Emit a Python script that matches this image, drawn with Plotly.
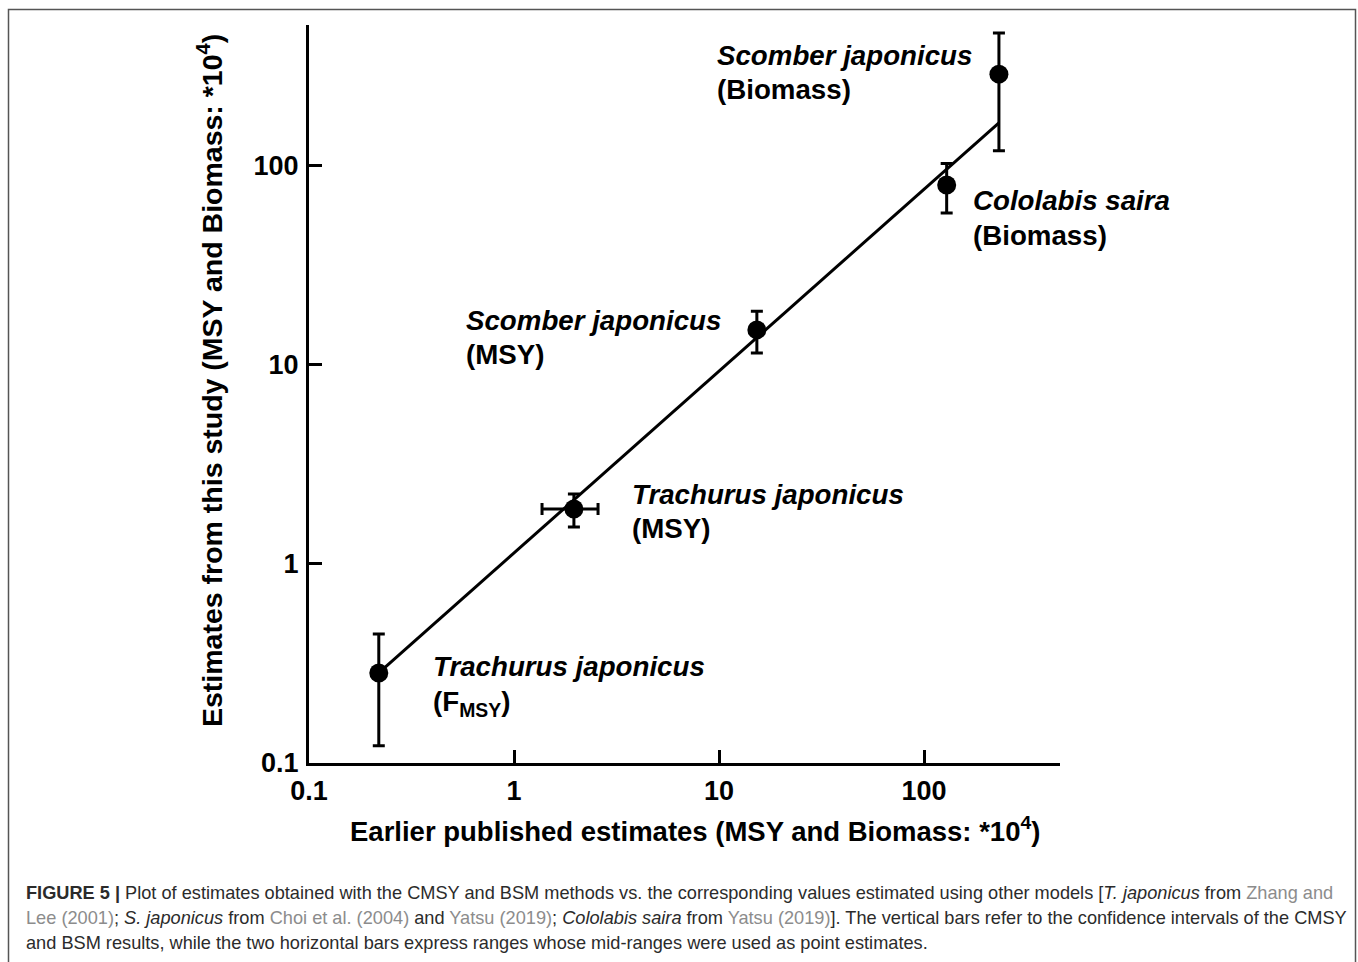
import plotly.graph_objects as go

# ---- data ----
labels = ["Trachurus japonicus (F_MSY)", "Trachurus japonicus (MSY)",
          "Scomber japonicus (MSY)", "Cololabis saira (Biomass)",
          "Scomber japonicus (Biomass)"]
x_earlier = [0.219, 1.96, 15.3, 129, 232]
y_study = [0.283, 1.88, 14.9, 79.4, 286]
y_low = [0.122, 1.53, 11.4, 57.5, 118]
y_high = [0.444, 2.24, 18.5, 102, 460]
x_low = [0.219, 1.37, 15.3, 129, 232]
x_high = [0.219, 2.57, 15.3, 129, 232]

fit_x = [0.219, 232]
fit_y = [0.283, 163]

tick_vals = [0.1, 1, 10, 100]
tick_text = ["0.1", "1", "10", "100"]

# ---- layout geometry ----
W, H = 1358, 962
L, R, T, B = 309, 1060, 25, 763
x_range = [-1, -1 + (R - L) / 205.0]
y_range = [-1, -1 + (B - T) / 199.3]

def px(xp):
    return (xp - L) / (R - L)

def py(yp):
    return (B - yp) / (B - T)

FONT = "Liberation Sans, Arial, sans-serif"

fig = go.Figure()

fig.add_trace(go.Scatter(x=fit_x, y=fit_y, mode="lines",
                         line=dict(color="black", width=3),
                         hoverinfo="skip", showlegend=False))

fig.add_trace(go.Scatter(
    x=x_earlier, y=y_study, mode="markers", text=labels,
    marker=dict(color="black", size=19),
    error_y=dict(type="data", symmetric=False,
                 array=[h - v for h, v in zip(y_high, y_study)],
                 arrayminus=[v - l for l, v in zip(y_low, y_study)],
                 color="black", thickness=3, width=6),
    error_x=dict(type="data", symmetric=False,
                 array=[h - v for h, v in zip(x_high, x_earlier)],
                 arrayminus=[v - l for l, v in zip(x_low, x_earlier)],
                 color="black", thickness=3, width=6),
    showlegend=False))

axis_common = dict(
    type="log", showgrid=False, zeroline=False,
    showline=True, linecolor="black", linewidth=3,
    ticks="inside", ticklen=13, tickwidth=2.5, tickcolor="black",
    tickvals=tick_vals, ticktext=tick_text,
    tickfont=dict(family=FONT, size=27, color="black", weight="bold"),
)

fig.update_layout(
    width=W, height=H,
    margin=dict(l=L, r=W - R, t=T, b=H - B, pad=0),
    paper_bgcolor="white", plot_bgcolor="white",
    xaxis=dict(range=x_range, ticklabelstandoff=2, **axis_common),
    yaxis=dict(range=y_range, ticklabelstandoff=2, **axis_common),
)

ann = []
ann.append(dict(text="Earlier published estimates (MSY and Biomass: *10<sup>4</sup>)",
                x=px(695), y=py(830), xref="paper", yref="paper",
                xanchor="center", yanchor="middle", showarrow=False,
                font=dict(family=FONT, size=27.5, color="black", weight="bold")))
ann.append(dict(text="Estimates from this study (MSY and Biomass: *10<sup>4</sup>)",
                x=px(210), y=py(381), xref="paper", yref="paper",
                xanchor="center", yanchor="middle", showarrow=False,
                textangle=-90,
                font=dict(family=FONT, size=28.5, color="black", weight="bold")))

lab_font = dict(family=FONT, size=27.7, color="black", weight="bold")
species_labels = [
    ("<i>Scomber japonicus</i>", 715, 55),
    ("(Biomass)", 715, 90),
    ("<i>Cololabis saira</i>", 971, 200),
    ("(Biomass)", 971, 235),
    ("<i>Scomber japonicus</i>", 464, 320),
    ("(MSY)", 464, 354),
    ("<i>Trachurus japonicus</i>", 630, 494),
    ("(MSY)", 630, 528),
    ("<i>Trachurus japonicus</i>", 431, 666),
    ("(F<sub>MSY</sub>)", 431, 703),
]
for t, xp, yp in species_labels:
    ann.append(dict(text=t, x=px(xp), y=py(yp), xref="paper", yref="paper",
                    xanchor="left", yanchor="middle", showarrow=False,
                    font=lab_font))

CAP = "Liberation Sans, Arial, sans-serif"
dark = "#2b2b2b"
gray = "#8c8c8c"
def g(s):
    return f"<span style='color:{gray}'>{s}</span>"
cap_lines = [
    (f"<b>FIGURE 5 |</b> Plot of estimates obtained with the CMSY and BSM methods vs. the corresponding values estimated using other models [<i>T. japonicus</i> from {g('Zhang and')}", 893),
    (f"{g('Lee (2001)')}; <i>S. japonicus</i> from {g('Choi et al. (2004)')} and {g('Yatsu (2019)')}; <i>Cololabis saira</i> from {g('Yatsu (2019)')}]. The vertical bars refer to the confidence intervals of the CMSY", 918),
    ("and BSM results, while the two horizontal bars express ranges whose mid-ranges were used as point estimates.", 943),
]
for t, yp in cap_lines:
    ann.append(dict(text=t, x=px(24), y=py(yp), xref="paper", yref="paper",
                    xanchor="left", yanchor="middle", showarrow=False,
                    font=dict(family=CAP, size=18.2, color=dark)))

fig.update_layout(annotations=ann)

fig.add_shape(type="rect", xref="paper", yref="paper",
              x0=px(8.5), x1=px(1355.5), y0=py(980), y1=py(9.5),
              line=dict(color="#555555", width=1.5), fillcolor="rgba(0,0,0,0)",
              layer="below")

fig.write_html("out.html")
